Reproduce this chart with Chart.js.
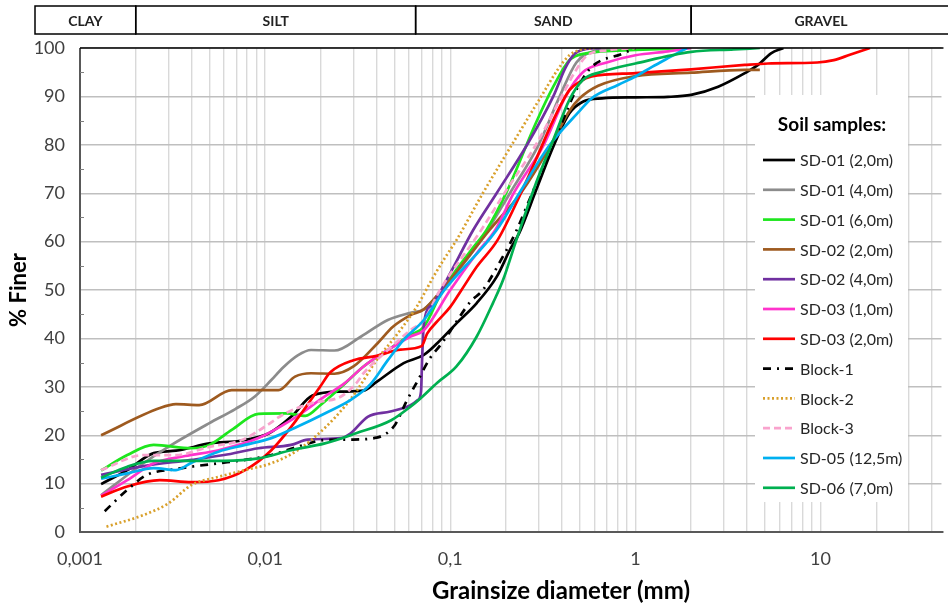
<!DOCTYPE html>
<html>
<head>
<meta charset="utf-8">
<script src="https://cdn.jsdelivr.net/npm/chart.js@4.4.1/dist/chart.umd.min.js"></script>
<style>
  html, body { margin: 0; padding: 0; background: #fff; overflow: hidden; }
  #wrap { position: relative; width: 948px; height: 607px; }
</style>
</head>
<body>
<div id="wrap"><canvas id="grainChart"></canvas></div>
<script>
// Grain size distribution curves
// each pair: [grain size in mm, % finer]

const sd01_20 = [[0.0013, 9.9], [0.0018, 12.8], [0.0025, 16.3], [0.0033, 16.8], [0.005, 18.3], [0.0075, 18.9],
  [0.0105, 20.4], [0.014, 24], [0.018, 28.2], [0.026, 29], [0.034, 29.2], [0.04, 31], [0.056, 34.9], [0.072, 36.6],
  [0.085, 39], [0.108, 43.1], [0.139, 47.3], [0.178, 52.7], [0.21, 58.3], [0.236, 61.8], [0.29, 70.5], [0.36, 79.6],
  [0.44, 86.5], [0.52, 88.9], [0.66, 89.6], [1.0, 89.8], [1.5, 89.9], [2.0, 90.3], [2.8, 92], [3.9, 94.8],
  [4.6, 96.5], [5.4, 98.9], [6.3, 100]];

const sd01_40 = [[0.0013, 7.6], [0.0022, 14.2], [0.003, 17.6], [0.005, 22.5], [0.0069, 25.4], [0.0088, 28],
  [0.0108, 31.4], [0.0125, 34], [0.015, 36.5], [0.0177, 37.6], [0.0237, 37.5], [0.033, 40.4], [0.046, 43.8],
  [0.061, 45.3], [0.072, 46], [0.09, 50], [0.145, 60], [0.21, 70], [0.3, 80], [0.39, 90], [0.48, 97],
  [0.6, 99.4], [0.8, 100]];

const sd01_60 = [[0.0013, 12.7], [0.0018, 15.9], [0.0025, 18], [0.004, 17.3], [0.005, 18], [0.0066, 21.1],
  [0.0092, 24.4], [0.013, 24.5], [0.0165, 24], [0.02, 26.3], [0.027, 30.7], [0.034, 34.2], [0.046, 37.6],
  [0.061, 40.7], [0.072, 42.4], [0.091, 50], [0.13, 58.3], [0.157, 62.4], [0.2, 70], [0.29, 84.5], [0.36, 92],
  [0.44, 97.5], [0.54, 98.9], [1.0, 99.6], [2.0, 100]];

const sd02_20 = [[0.0013, 20], [0.0027, 25.6], [0.0033, 26.4], [0.0044, 26.2], [0.0066, 29.3], [0.0118, 29.3],
  [0.0145, 32.1], [0.0177, 32.8], [0.0237, 32.7], [0.03, 34.2], [0.0405, 39], [0.049, 42.4], [0.061, 44.8],
  [0.072, 46], [0.09, 50], [0.163, 62.4], [0.24, 70], [0.35, 80], [0.44, 87], [0.5, 89.6], [0.63, 92.2],
  [1.0, 94.2], [2.0, 94.9], [3.9, 95.5], [4.7, 95.5]];

const sd02_40 = [[0.0013, 11.8], [0.0022, 13.6], [0.004, 14.9], [0.006, 15.9], [0.0092, 17.3], [0.0138, 18],
  [0.017, 19.1], [0.0257, 19.4], [0.029, 20.4], [0.0358, 23.8], [0.0475, 24.9], [0.061, 26.2], [0.067, 27.3],
  [0.0695, 29], [0.0705, 36], [0.072, 43], [0.08, 47], [0.1, 53.5], [0.133, 62.4], [0.178, 70], [0.26, 80],
  [0.36, 90], [0.42, 96], [0.47, 98.8], [0.53, 99.7], [0.65, 100]];

const sd03_10 = [[0.0013, 7.5], [0.0018, 10.7], [0.0025, 14.2], [0.0037, 15.7], [0.0056, 16.9], [0.0092, 19.4],
  [0.0138, 23.1], [0.021, 28], [0.0268, 30.7], [0.034, 34.2], [0.046, 37.6], [0.061, 40.4], [0.072, 41.7],
  [0.1, 50], [0.139, 57.6], [0.175, 62.4], [0.22, 70], [0.32, 80], [0.42, 90], [0.52, 95], [0.7, 97],
  [1.0, 98.5], [1.5, 99.3], [2.0, 100]];

const sd03_20 = [[0.0013, 7.3], [0.0018, 9.4], [0.0027, 10.7], [0.004, 10.3], [0.0056, 10.7], [0.0078, 12.8],
  [0.0108, 16.9], [0.015, 23.5], [0.0198, 30], [0.0225, 33], [0.03, 35.5], [0.04, 36.4], [0.054, 37.7],
  [0.07, 38.4], [0.075, 41], [0.085, 43.5], [0.1, 46.5], [0.115, 50], [0.139, 54.8], [0.18, 60.3], [0.236, 69.3],
  [0.29, 76.9], [0.36, 85.1], [0.44, 91.3], [0.5, 93], [0.58, 94.1], [1.0, 94.8], [2.0, 95.6], [3.9, 96.5],
  [5.2, 96.8], [9.6, 97], [11.8, 97.5], [14.4, 98.6], [18.5, 100]];

const block1 = [[0.00136, 4.3], [0.0018, 8.7], [0.0023, 11.8], [0.0033, 13], [0.004, 13.5], [0.0056, 14.2],
  [0.0078, 14.9], [0.0108, 15.9], [0.015, 17.6], [0.021, 19], [0.029, 19.1], [0.04, 19.5], [0.05, 22],
  [0.058, 27], [0.067, 31.4], [0.078, 36], [0.088, 38.5], [0.1, 41.5], [0.128, 47.5], [0.15, 50], [0.193, 57],
  [0.226, 62], [0.277, 70], [0.36, 80], [0.46, 90], [0.5, 92.6], [0.58, 96.1], [0.86, 98.9], [1.0, 100]];

const block2 = [[0.00139, 1.1], [0.0022, 3.5], [0.003, 5.9], [0.004, 9.7], [0.0056, 11.4], [0.0078, 12.8],
  [0.0108, 14.2], [0.015, 16.9], [0.021, 21.5], [0.027, 26], [0.031, 29], [0.04, 35.5], [0.052, 41],
  [0.066, 46.6], [0.081, 52.7], [0.092, 56.2], [0.108, 60.3], [0.15, 70], [0.215, 80], [0.31, 90],
  [0.38, 95.5], [0.44, 98.5], [0.5, 99.6], [0.6, 100]];

const block3 = [[0.0013, 12.8], [0.0022, 15.9], [0.0033, 15.9], [0.005, 17.6], [0.0075, 19], [0.01, 21.8],
  [0.0128, 24.5], [0.0178, 26.6], [0.0257, 28], [0.031, 30.7], [0.034, 32.8], [0.046, 37.6], [0.061, 41.7],
  [0.072, 43.8], [0.088, 50], [0.147, 62.4], [0.2, 70.5], [0.29, 80], [0.4, 90], [0.47, 95], [0.55, 98.5],
  [0.7, 99.5], [1.0, 100]];

const sd05_125 = [[0.0013, 11], [0.0018, 12.1], [0.0025, 13.2], [0.0033, 12.8], [0.004, 14.3], [0.0056, 16.6],
  [0.0078, 18], [0.0108, 19.4], [0.015, 21.8], [0.021, 24.5], [0.029, 27.3], [0.037, 30.5], [0.046, 35.5],
  [0.056, 39.7], [0.072, 43.8], [0.093, 50], [0.178, 62.4], [0.236, 70], [0.345, 80], [0.5, 87], [0.58, 89.6],
  [0.81, 92.4], [1.0, 94.1], [1.23, 96.1], [1.5, 97.9], [1.9, 100]];

const sd06_70 = [[0.0013, 11.2], [0.0018, 13.5], [0.0025, 14.7], [0.004, 14.7], [0.006, 14.7], [0.0092, 15.2],
  [0.0138, 16.9], [0.021, 18.3], [0.031, 20.4], [0.048, 23.1], [0.061, 25.9], [0.069, 27.6], [0.0848, 30.8],
  [0.108, 34.2], [0.139, 40.4], [0.17, 47.3], [0.193, 52.1], [0.226, 60], [0.29, 72], [0.36, 81], [0.44, 89.3],
  [0.52, 93.4], [0.66, 95.1], [1.0, 96.8], [2.0, 99.2], [3.4, 99.7], [4.7, 100]];

const seriesNames = ['SD-01 (2,0m)', 'SD-01 (4,0m)', 'SD-01 (6,0m)', 'SD-02 (2,0m)', 'SD-02 (4,0m)',
  'SD-03 (1,0m)', 'SD-03 (2,0m)', 'Block-1', 'Block-2', 'Block-3', 'SD-05 (12,5m)', 'SD-06 (7,0m)'];
const seriesData = [sd01_20, sd01_40, sd01_60, sd02_20, sd02_40, sd03_10, sd03_20, block1, block2, block3, sd05_125, sd06_70];

const xTickValues = [0.001, 0.01, 0.1, 1, 10];
const xTickLabels = ['0,001', '0,01', '0,1', '1', '10'];
const yTickValues = [0, 10, 20, 30, 40, 50, 60, 70, 80, 90, 100];
const soilClasses = ['CLAY', 'SILT', 'SAND', 'GRAVEL'];
const classLimits = [0.002, 0.065, 2]; // mm, as drawn in the band

// line styles per series
const styles = [
  { color: '#000000', dash: [] },
  { color: '#8c8c8c', dash: [] },
  { color: '#1ee61e', dash: [] },
  { color: '#9e5a1f', dash: [] },
  { color: '#7030a0', dash: [] },
  { color: '#ff33cc', dash: [] },
  { color: '#ff0000', dash: [] },
  { color: '#000000', dash: [8, 6, 2, 6] },
  { color: '#d9a02b', dash: [2, 2.5] },
  { color: '#f9a3cd', dash: [7, 4] },
  { color: '#00b0f0', dash: [] },
  { color: '#00b050', dash: [] }
];

const FONT = 'Lato, "Open Sans", sans-serif';

const datasets = seriesData.map((pts, i) => ({
  label: seriesNames[i],
  data: pts.map(p => ({ x: p[0], y: p[1] })),
  borderColor: styles[i].color,
  backgroundColor: styles[i].color,
  borderDash: styles[i].dash,
  borderWidth: 2.7,
  pointRadius: 0,
  fill: false,
  cubicInterpolationMode: 'monotone',
  order: seriesData.length - i // later series on top, like Excel
}));

// soil class band above the plot
const classBandPlugin = {
  id: 'classBand',
  afterDraw(chart) {
    const { ctx, scales: { x } } = chart;
    const top = 6, bottom = 34;
    const edges = [35, ...classLimits.map(v => x.getPixelForValue(v)), chart.width + 40];
    ctx.save();
    ctx.strokeStyle = '#000';
    ctx.lineWidth = 1.5;
    ctx.font = 'bold 14px ' + FONT;
    ctx.fillStyle = '#222';
    ctx.textAlign = 'center';
    ctx.textBaseline = 'middle';
    for (let i = 0; i < soilClasses.length; i++) {
      const l = edges[i], r = edges[i + 1];
      ctx.strokeRect(l, top, r - l, bottom - top);
      const cx = Math.min((l + r) / 2, i === 3 ? 821 : 1e9);
      ctx.fillText(soilClasses[i], cx, (top + bottom) / 2 + 1);
    }
    ctx.restore();
  }
};

// plot frame, inner minor ticks, axis titles and the legend box
const framePlugin = {
  id: 'frame',
  afterDatasetsDraw(chart) {
    const { ctx, chartArea: a, scales: { y } } = chart;
    ctx.save();
    ctx.strokeStyle = '#595959';
    ctx.lineWidth = 2;
    ctx.beginPath();
    ctx.moveTo(a.left, a.top);
    ctx.lineTo(a.left, a.bottom);
    ctx.lineTo(a.right + 2, a.bottom);
    ctx.stroke();
    ctx.strokeStyle = '#000';
    ctx.lineWidth = 1.5;
    ctx.beginPath();
    ctx.moveTo(a.left, a.top);
    ctx.lineTo(a.right + 2, a.top);
    ctx.stroke();
    // minor ticks at 5 %
    ctx.strokeStyle = '#7f7f7f';
    ctx.lineWidth = 1;
    for (let v = 5; v < 100; v += 10) {
      const py = Math.round(y.getPixelForValue(v)) + 0.5;
      ctx.beginPath();
      ctx.moveTo(a.left, py);
      ctx.lineTo(a.left + 4, py);
      ctx.stroke();
    }
    ctx.restore();
  },
  afterDraw(chart) {
    const { ctx, chartArea: a } = chart;
    ctx.save();
    // axis titles
    ctx.fillStyle = '#000';
    ctx.font = 'bold 24px ' + FONT;
    ctx.textAlign = 'center';
    ctx.textBaseline = 'middle';
    ctx.fillText('Grainsize diameter (mm)', 561, 591);
    ctx.translate(19, (a.top + a.bottom) / 2);
    ctx.rotate(-Math.PI / 2);
    ctx.font = 'bold 22px ' + FONT;
    ctx.fillText('% Finer', 0, 0);
    ctx.restore();

    // legend
    const bx = a.left + 675, by = a.top + 47, bw = 153, bh = 407;
    ctx.save();
    ctx.fillStyle = '#fff';
    ctx.fillRect(bx, by, bw, bh);
    ctx.fillStyle = '#000';
    ctx.font = 'bold 19px ' + FONT;
    ctx.textAlign = 'center';
    ctx.textBaseline = 'middle';
    ctx.fillText('Soil samples:', bx + 77, by + 30);
    ctx.font = '16px ' + FONT;
    ctx.textAlign = 'left';
    chart.data.datasets.forEach((ds, i) => {
      const ry = by + 65 + i * 29.8;
      ctx.strokeStyle = ds.borderColor;
      ctx.lineWidth = ds.borderWidth;
      ctx.setLineDash(ds.borderDash || []);
      ctx.beginPath();
      ctx.moveTo(bx + 8, ry);
      ctx.lineTo(bx + 40, ry);
      ctx.stroke();
      ctx.setLineDash([]);
      ctx.fillStyle = '#262626';
      ctx.fillText(ds.label, bx + 45, ry + 1);
    });
    ctx.restore();
  }
};

const ctx = document.getElementById('grainChart');

new Chart(ctx, {
  type: 'line',
  data: { datasets },
  options: {
    responsive: true,
    maintainAspectRatio: false,
    animation: false,
    layout: { padding: { top: 48, right: 0, bottom: 0, left: 0 } },
    plugins: {
      legend: { display: false },
      tooltip: { enabled: false },
      title: { display: false }
    },
    scales: {
      x: {
        type: 'logarithmic',
        min: 0.001,
        max: 45,
        afterBuildTicks(scale) {
          const ticks = [];
          for (let e = -3; e <= 1; e++) {
            for (let m = 1; m <= 9; m++) {
              const v = m * Math.pow(10, e);
              if (v <= scale.max * 1.0001) ticks.push({ value: v });
            }
          }
          scale.ticks = ticks;
        },
        afterFit(scale) { scale.height = 75; },
        ticks: {
          autoSkip: false,
          maxRotation: 0,
          padding: 16,
          color: '#404040',
          font: { family: FONT, size: 18 },
          callback(value) {
            const idx = xTickValues.findIndex(t => Math.abs(t - value) / t < 1e-6);
            return idx >= 0 ? xTickLabels[idx] : '';
          }
        },
        grid: { color: '#d9d9d9', lineWidth: 1.4, drawTicks: false },
        border: { display: false }
      },
      y: {
        type: 'linear',
        min: 0,
        max: 100,
        afterBuildTicks(scale) {
          scale.ticks = yTickValues.map(v => ({ value: v }));
        },
        afterFit(scale) { scale.width = 80; },
        ticks: {
          padding: 15,
          color: '#404040',
          font: { family: FONT, size: 18 }
        },
        grid: { color: '#bfbfbf', lineWidth: 1.4, drawTicks: false },
        border: { display: false }
      }
    }
  },
  plugins: [classBandPlugin, framePlugin]
});
</script>
</body>
</html>
